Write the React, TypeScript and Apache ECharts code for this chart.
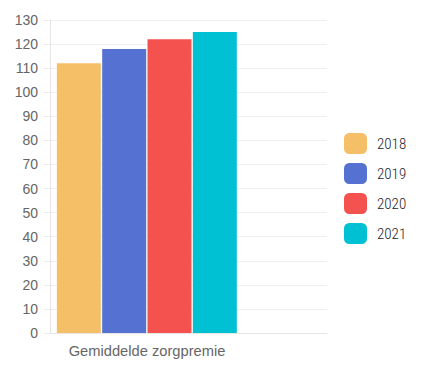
import React, { useEffect, useRef } from "react";
import * as echarts from "echarts";

const categories = ["Gemiddelde zorgpremie"];
const years = ["2018", "2019", "2020", "2021"];
const values2018 = [112];
const values2019 = [118];
const values2020 = [122];
const values2021 = [125];
const colors = ["#F5BF68", "#5571D2", "#F4524F", "#00C1D4"];

export default function App() {
  const ref = useRef<HTMLDivElement>(null);
  useEffect(() => {
    const chart = echarts.init(ref.current!, null, { renderer: "svg" });
    const seriesValues = [values2018, values2019, values2020, values2021];
    const bars: any[] = years.map((y, i) => ({
      name: y,
      type: "bar",
      data: seriesValues[i],
      barWidth: 44,
      barGap: "3%",
      itemStyle: { color: colors[i] },
    }));
    bars.push({
      name: "spacer",
      type: "bar",
      data: ["-"],
      barWidth: 82,
      barGap: "3%",
      itemStyle: { color: "transparent" },
      silent: true,
    });
    chart.setOption({
      animation: false,
      grid: { left: 50, right: 98, top: 20, bottom: 37 },
      legend: {
        data: years,
        orient: "vertical",
        left: 344,
        top: 133,
        padding: 0,
        itemWidth: 23,
        itemHeight: 21,
        itemGap: 9,
        icon: "roundRect",
        textStyle: {
          fontSize: 15,
          fontWeight: 300,
          color: "#1c1c2c",
          padding: [0, 0, 0, 5],
          fontFamily: "'Liberation Sans Narrow', 'Roboto Condensed', 'DejaVu Sans Condensed', sans-serif",
        },
      },
      xAxis: {
        type: "category",
        data: categories,
        axisLine: { lineStyle: { color: "#e6e6e6" } },
        axisTick: { show: false },
        axisLabel: {
          color: "#666",
          fontSize: 14.7,
          fontFamily: "'Liberation Sans', Arial, sans-serif",
          margin: 10,
          padding: [0, 83, 0, 0],
        },
      },
      yAxis: {
        type: "value",
        min: 0,
        max: 130,
        interval: 10,
        axisLine: { show: true, lineStyle: { color: "#e6e6e6" } },
        axisTick: { show: true, length: 6, lineStyle: { color: "#ebebeb" } },
        splitLine: { lineStyle: { color: "#efefef" } },
        axisLabel: {
          color: "#666",
          fontSize: 14,
          fontFamily: "'Liberation Sans', Arial, sans-serif",
          margin: 12,
        },
      },
      series: bars,
    });
    return () => chart.dispose();
  }, []);
  return <div ref={ref} style={{ width: 425, height: 370, marginLeft: -8, marginTop: -8 }} />;
}
